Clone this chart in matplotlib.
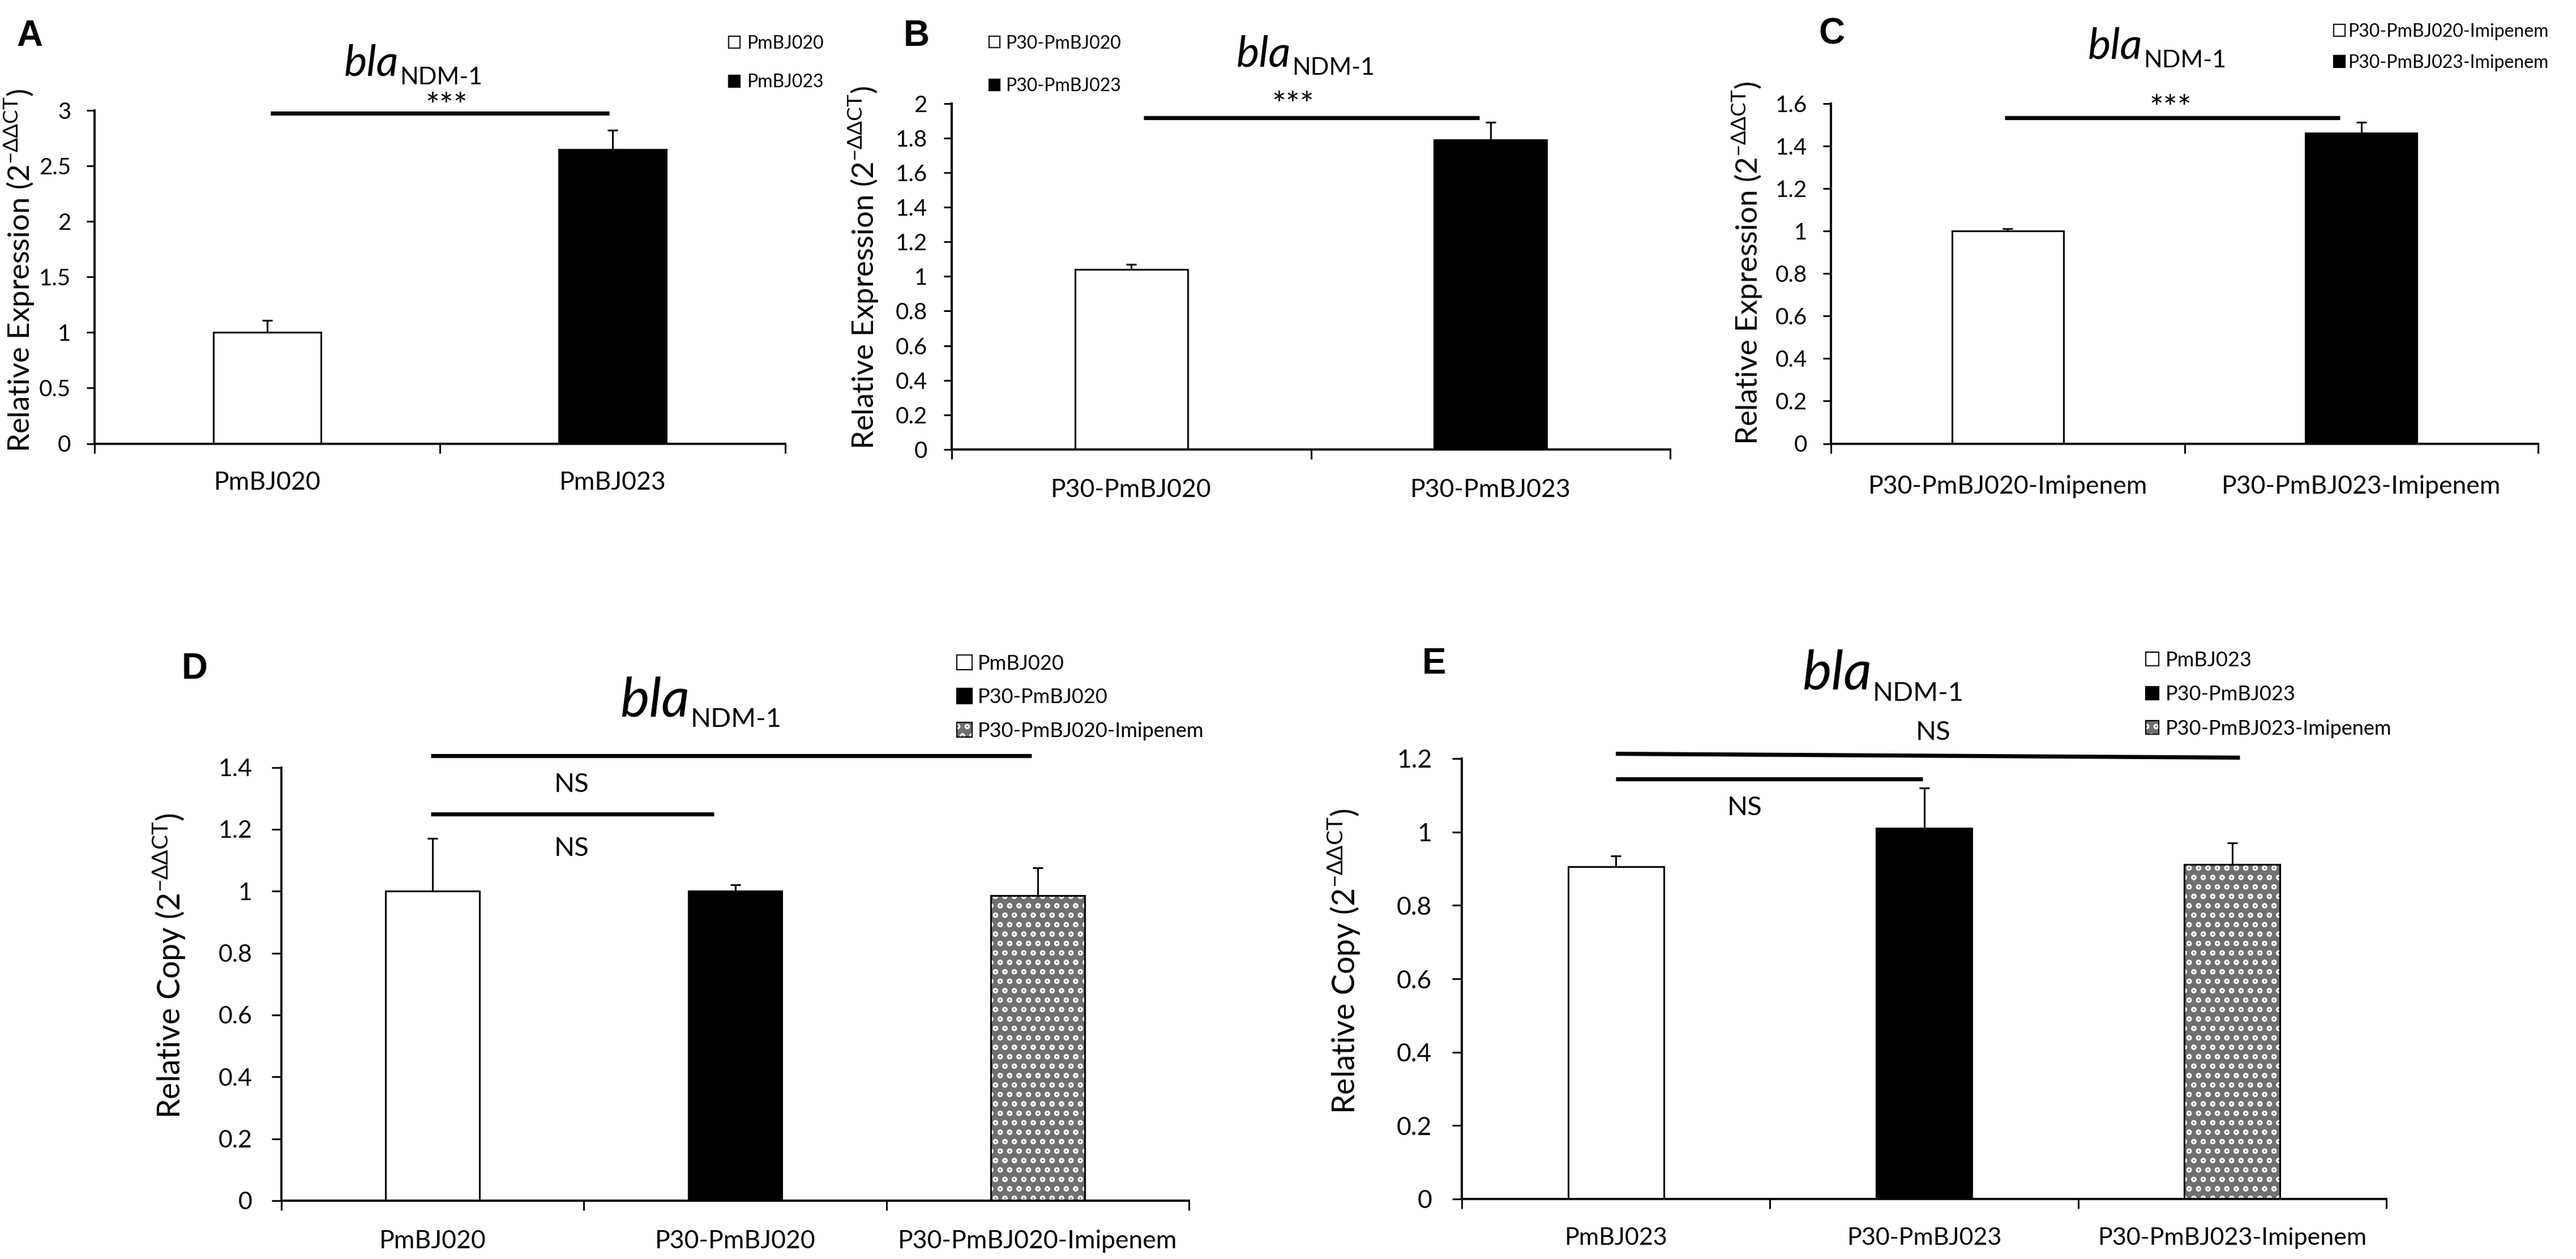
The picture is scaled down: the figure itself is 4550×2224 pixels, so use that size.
import numpy as np
import matplotlib
matplotlib.use("Agg")
import matplotlib.pyplot as plt
from matplotlib.patches import Patch
from matplotlib.ticker import FuncFormatter

W, H = 4550, 2224
DPI = 100

# ------------------ data ------------------
a_groups = ["PmBJ020", "PmBJ023"]
a_values = [1.00, 2.65]
a_errors = [0.11, 0.17]

b_groups = ["P30-PmBJ020", "P30-PmBJ023"]
b_values = [1.04, 1.79]
b_errors = [0.03, 0.10]

c_groups = ["P30-PmBJ020-Imipenem", "P30-PmBJ023-Imipenem"]
c_values = [1.00, 1.46]
c_errors = [0.01, 0.05]

d_groups = ["PmBJ020", "P30-PmBJ020", "P30-PmBJ020-Imipenem"]
d_values = [1.00, 1.00, 0.985]
d_errors = [0.17, 0.02, 0.09]

e_groups = ["PmBJ023", "P30-PmBJ023", "P30-PmBJ023-Imipenem"]
e_values = [0.905, 1.01, 0.912]
e_errors = [0.03, 0.11, 0.058]

plt.rcParams["hatch.linewidth"] = 2.0
plt.rcParams["mathtext.fontset"] = "dejavusans"

FONT = ["Lato", "DejaVu Sans"]

fig = plt.figure(figsize=(W / DPI, H / DPI), dpi=DPI)
fig.patch.set_facecolor("white")


def fx(x):
    return x / W


def fy(y):
    return 1 - y / H


def add_panel(left, top, right, bottom):
    return fig.add_axes([fx(left), fy(bottom), (right - left) / W, (bottom - top) / H])


DOT_FACE = "#707070"


def dotted_handle():
    return (Patch(facecolor=DOT_FACE, edgecolor="white", hatch="o", linewidth=0),
            Patch(fill=False, edgecolor="black", linewidth=1.6))


def draw_bars(ax, values, errors, width, styles):
    x = np.arange(len(values))
    for i, (v, st) in enumerate(zip(values, styles)):
        if st == "dots":
            ax.bar(i, v, width, color=DOT_FACE, edgecolor="white", hatch="o", linewidth=0, zorder=2)
            ax.bar(i, v, width, fill=False, edgecolor="black", linewidth=2.2, zorder=3)
        else:
            ax.bar(i, v, width, color=st, edgecolor="black", linewidth=2.2, zorder=2)
    ax.errorbar(x, values, yerr=[np.zeros(len(values)), errors], fmt="none", ecolor="black",
                elinewidth=2.2, capsize=6.5, capthick=2.2, zorder=4)


def style_axis(ax, groups, ymax, ystep, tick_size, x_size, ypad, xpad, ylen=10):
    n = len(groups)
    ax.set_xlim(-0.5, n - 0.5)
    ax.set_ylim(0, ymax)
    ax.set_yticks(np.arange(0, ymax + 1e-9, ystep))
    ax.yaxis.set_major_formatter(FuncFormatter(lambda v, p: f"{v:g}"))
    ax.set_xticks(np.arange(-0.5, n, 1.0))
    ax.set_xticklabels([])
    ax.set_xticks(np.arange(n), minor=True)
    ax.set_xticklabels(groups, minor=True)
    ax.tick_params(axis="x", which="major", length=12, width=2.2, direction="out")
    ax.tick_params(axis="x", which="minor", length=0, pad=xpad, labelsize=x_size,
                   labelfontfamily=FONT)
    ax.tick_params(axis="y", length=ylen, width=2.2, pad=ypad, labelsize=tick_size,
                   labelfontfamily=FONT)
    for s in ["top", "right"]:
        ax.spines[s].set_visible(False)
    for s in ["left", "bottom"]:
        ax.spines[s].set_linewidth(2.8)
    ax.set_facecolor("none")


def add_ylabel(ax, text, size, x_px, yfrac):
    ax.set_ylabel(text, fontsize=size, family=FONT)
    pos = ax.get_position()
    x_ax = (x_px / W - pos.x0) / pos.width
    ax.yaxis.set_label_coords(x_ax, yfrac)


def add_title(jx, base, big, small, drop):
    fig.text(fx(jx), fy(base), "bla", fontsize=big, fontstyle="italic", family="Lato",
             ha="right", va="baseline")
    fig.text(fx(jx + 2), fy(base + drop), "NDM-1", fontsize=small, family="Lato",
             ha="left", va="baseline")


def add_letter(letter, x, y):
    fig.text(fx(x), fy(y), letter, fontsize=46, fontweight="bold", family="Liberation Sans",
             ha="left", va="top")


def add_legend(ax, labels, styles, x, y_first, size, sq, gap, pitch):
    fs = size * DPI / 72
    handles = []
    for st in styles:
        if st == "dots":
            handles.append(dotted_handle())
        else:
            handles.append(Patch(facecolor=st, edgecolor="black", linewidth=1.6))
    row_h = 0.93 * fs
    ax.legend(handles, labels, loc="upper left",
              bbox_to_anchor=(fx(x), fy(y_first - 0.42 * fs)), bbox_transform=fig.transFigure,
              frameon=False, borderpad=0, borderaxespad=0,
              handlelength=sq / fs, handleheight=sq / fs, handletextpad=gap / fs,
              labelspacing=(pitch - row_h) / fs,
              prop={"family": "Lato", "size": size})


def sig_line(ax, x0, x1, y0, y1=None, lw=5.2):
    ax.plot([x0, x1], [y0, y0 if y1 is None else y1], color="black", lw=lw,
            solid_capstyle="butt", clip_on=False, zorder=5)


def sig_text(ax, x, y, s, size):
    ax.text(x, y, s, fontsize=size, family="Lato", ha="center", va="center", clip_on=False)


expr_label = r"Relative Expression (2$^{\mathregular{-ΔΔCT}}$)"
copy_label = r"Relative Copy (2$^{\mathregular{-ΔΔCT}}$)"

# ------------------ A ------------------
ax_a = add_panel(167, 195, 1387, 783.5)
draw_bars(ax_a, a_values, a_errors, 0.313, ["white", "black"])
style_axis(ax_a, a_groups, 3, 0.5, 29, 32, 20, 35)
add_ylabel(ax_a, expr_label, 38, 64, 0.519)
sig_line(ax_a, 0.01, 0.99, 2.975)
sig_text(ax_a, 0.52, 3.03, "***", 42)
add_title(704, 133, 55, 31, 16)
add_letter("A", 29, 34)
add_legend(ax_a, a_groups, ["white", "black"], 1287, 75, 23, 20, 12, 68.5)

# ------------------ B ------------------
ax_b = add_panel(1681, 182.5, 2950, 794)
draw_bars(ax_b, b_values, b_errors, 0.313, ["white", "black"])
style_axis(ax_b, b_groups, 2, 0.2, 29, 32, 21, 37)
add_ylabel(ax_b, expr_label, 38, 1555, 0.526)
sig_line(ax_b, 0.034, 0.969, 1.917)
sig_text(ax_b, 0.45, 1.985, "***", 42)
add_title(2280, 117, 55, 31, 15)
add_letter("B", 1596, 34)
add_legend(ax_b, b_groups, ["white", "black"], 1747, 75, 23, 19, 10, 75)

# ------------------ C ------------------
ax_c = add_panel(3234, 182.5, 4483, 783.5)
draw_bars(ax_c, c_values, c_errors, 0.315, ["white", "black"])
style_axis(ax_c, c_groups, 1.6, 0.2, 29, 32, 20, 40)
add_ylabel(ax_c, expr_label, 38, 3116, 0.53)
sig_line(ax_c, -0.008, 0.94, 1.533)
sig_text(ax_c, 0.46, 1.572, "***", 42)
add_title(3784, 104, 55, 31, 15)
add_letter("C", 3212, 30)
add_legend(ax_c, c_groups, ["white", "black"], 4122, 54.5, 23, 20, 5, 54.5)

# ------------------ D ------------------
ax_d = add_panel(497, 1355.5, 2100, 2121)
draw_bars(ax_d, d_values, d_errors, 0.31, ["white", "black", "dots"])
style_axis(ax_d, d_groups, 1.4, 0.2, 31, 32, 25, 37, ylen=12)
add_ylabel(ax_d, copy_label, 40, 330, 0.542)
sig_line(ax_d, -0.006, 1.98, 1.4375)
sig_line(ax_d, -0.006, 0.93, 1.25)
sig_text(ax_d, 0.46, 1.344, "NS", 34)
sig_text(ax_d, 0.46, 1.137, "NS", 34)
add_title(1218, 1266, 70, 34, 18)
add_letter("D", 321, 1152)
add_legend(ax_d, d_groups, ["white", "black", "dots"], 1690, 1171, 26, 27, 10, 60)

# ------------------ E ------------------
ax_e = add_panel(2582, 1340, 4215, 2118)
draw_bars(ax_e, e_values, e_errors, 0.31, ["white", "black", "dots"])
style_axis(ax_e, e_groups, 1.2, 0.2, 32, 31, 26, 36, ylen=12)
add_ylabel(ax_e, copy_label, 40, 2405, 0.54)
sig_line(ax_e, 0.0, 2.025, 1.213, 1.2025)
sig_line(ax_e, 0.0, 0.995, 1.1446)
sig_text(ax_e, 1.03, 1.271, "NS", 34)
sig_text(ax_e, 0.418, 1.066, "NS", 34)
add_title(3306, 1218, 70, 34, 20)
add_letter("E", 2512, 1143)
add_legend(ax_e, e_groups, ["white", "black", "dots"], 3790, 1165, 26, 23, 12, 61)

fig.savefig("out.png", dpi=DPI, facecolor="white")
